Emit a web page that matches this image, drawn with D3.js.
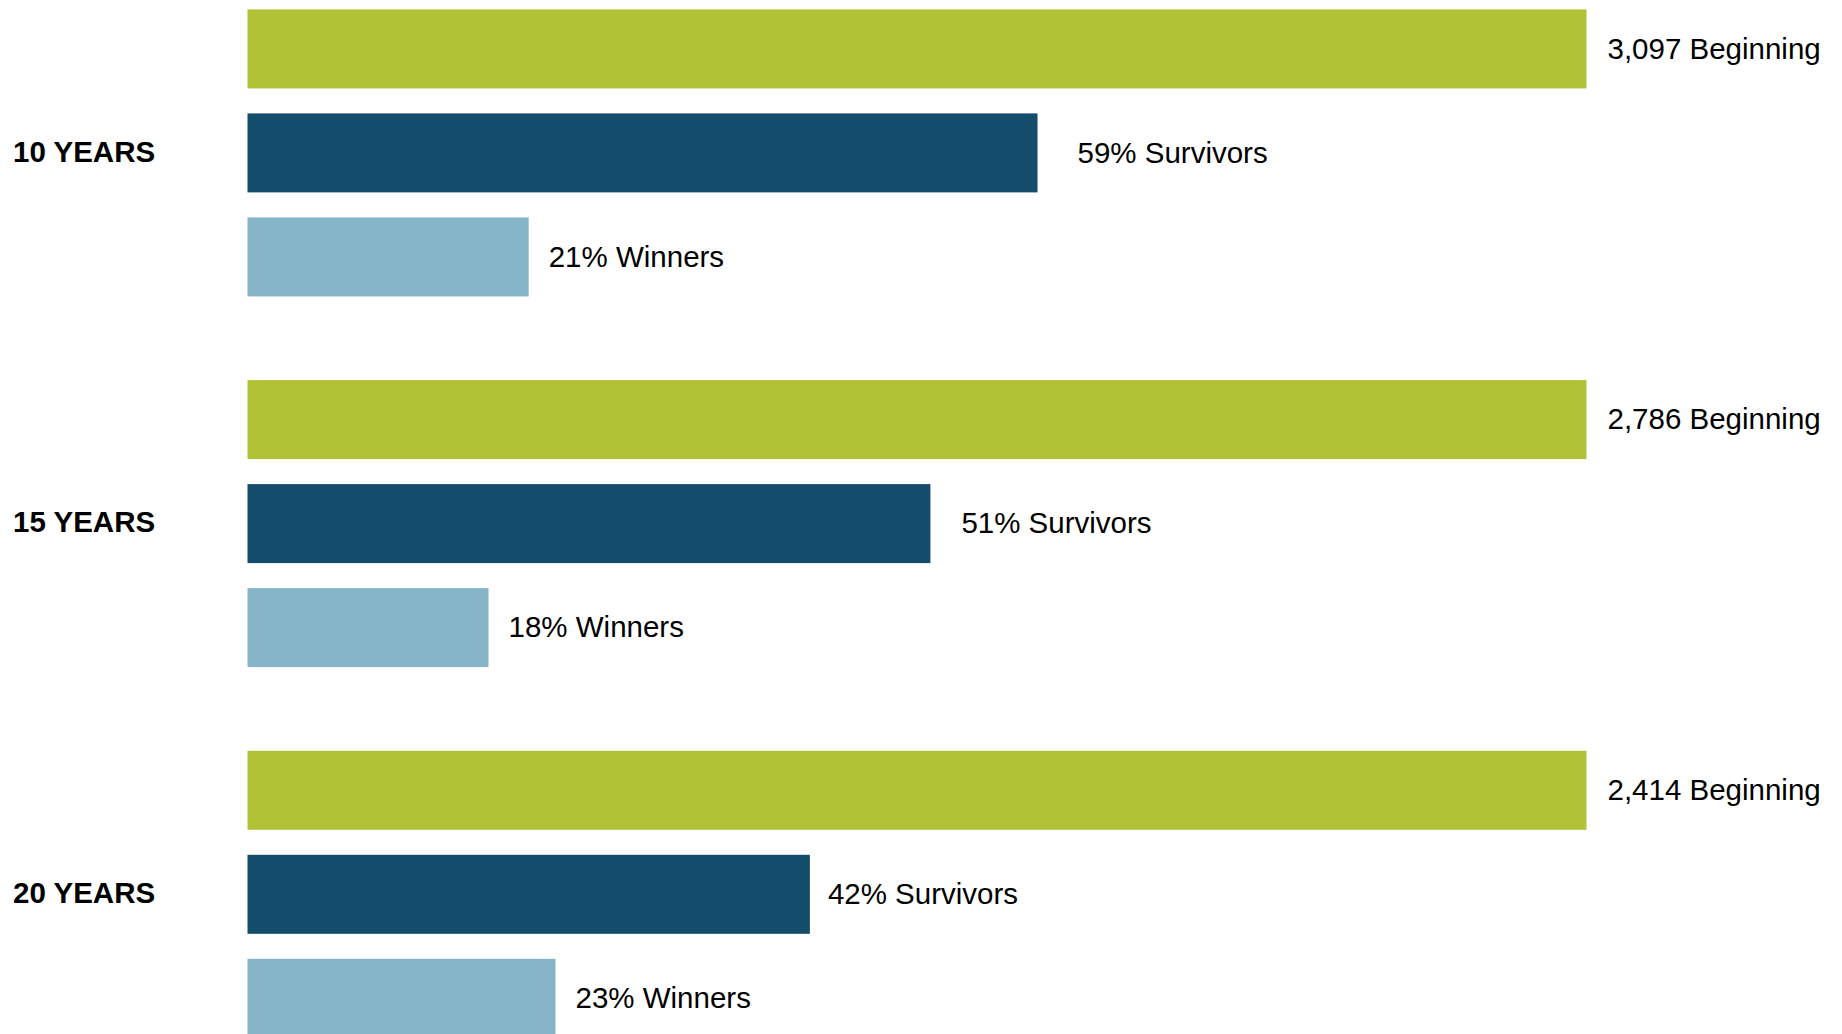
<!DOCTYPE html>
<html>
<head>
<meta charset="utf-8">
<script src="https://cdn.jsdelivr.net/npm/d3@7"></script>
<style>
  html, body { margin: 0; padding: 0; background: #fff; }
  svg { display: block; font-family: "Liberation Sans", Arial, sans-serif; }
</style>
</head>
<body>
<script>
// data
periods = ["10 YEARS", "15 YEARS", "20 YEARS"];
series = ["Beginning", "Survivors", "Winners"];
beginningCounts = [3097, 2786, 2414];
survivorPct = [59, 51, 42];
winnerPct = [21, 18, 23];

colors = ["#b1c237", "#144c6b", "#86b4c9"];

// gap between a survivors bar and its label (varies in the original)
survivorGap = [40, 31, 18];

width = 1842;
height = 1034;

fmt = d3.format(",");

rows = [];
periods.forEach((p, i) => {
    rows.push({period: p, key: "Beginning", value: 100, label: `${fmt(beginningCounts[i])} Beginning`, gap: 21});
    rows.push({period: p, key: "Survivors", value: survivorPct[i], label: `${survivorPct[i]}% Survivors`, gap: survivorGap[i]});
    rows.push({period: p, key: "Winners", value: winnerPct[i], label: `${winnerPct[i]}% Winners`, gap: 20});
});

x = d3.scaleLinear().domain([0, 100]).range([247.5, 1586.5]);

y0 = d3.scaleBand().domain(periods).range([9.4, 9.4 + 3 * 370.7]);
y1 = d3.scaleBand().domain(series).range([0, 287]).paddingInner(0.2404).paddingOuter(0);

color = d3.scaleOrdinal(series, colors);

const svg = d3.select("body").append("svg")
    .attr("width", width)
    .attr("height", height)
    .attr("viewBox", [0, 0, width, height]);

svg.append("g")
    .selectAll("rect")
    .data(rows)
    .join("rect")
    .attr("x", x(0))
    .attr("y", d => y0(d.period) + y1(d.key))
    .attr("width", d => x(d.value) - x(0))
    .attr("height", y1.bandwidth())
    .attr("fill", d => color(d.key));

svg.append("g")
    .selectAll("text")
    .data(rows)
    .join("text")
    .attr("x", d => x(d.value) + d.gap)
    .attr("y", d => y0(d.period) + y1(d.key) + y1.bandwidth() / 2)
    .attr("dy", "0.33em")
    .attr("font-size", 29.5)
    .attr("fill", "#000")
    .text(d => d.label);

// period labels, centred on the middle bar
svg.append("g")
    .selectAll("text")
    .data(periods)
    .join("text")
    .attr("x", 13)
    .attr("y", d => y0(d) + y1("Survivors") + y1.bandwidth() / 2)
    .attr("dy", "0.3em")
    .attr("font-size", 29.5)
    .attr("font-weight", "bold")
    .attr("fill", "#000")
    .text(d => d);
</script>
</body>
</html>
